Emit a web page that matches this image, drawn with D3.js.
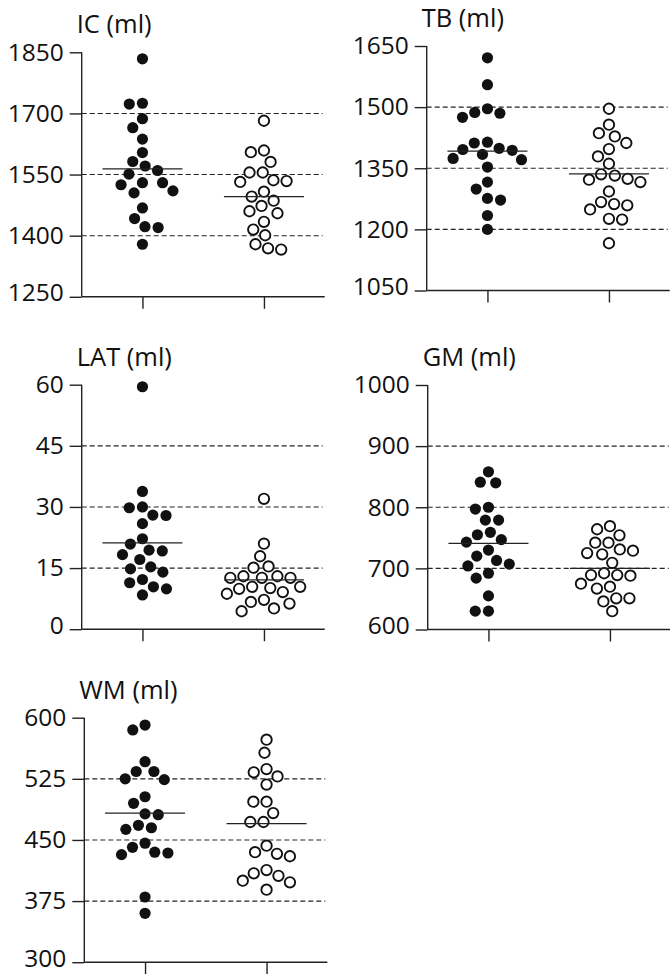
<!DOCTYPE html>
<html><head><meta charset="utf-8">
<script src="https://cdn.jsdelivr.net/npm/d3@7"></script>
<style>body{margin:0;background:#fff}text{font-family:"Open Sans",sans-serif;fill:#111}</style>
</head><body><svg id="c" width="670" height="974"></svg>
<script>
// ---- data ----
const titles = ["IC (ml)", "TB (ml)", "LAT (ml)", "GM (ml)", "WM (ml)"];
const tickLabels = [
  [1250, 1400, 1550, 1700, 1850],
  [1050, 1200, 1350, 1500, 1650],
  [0, 15, 30, 45, 60],
  [600, 700, 800, 900, 1000],
  [300, 375, 450, 525, 600]
];
const groups = ["filled", "open"];
const icFilled = [1834,1723,1725,1687,1665,1637,1604,1582,1560,1571,1551,1525,1530,1530,1505,1510,1468,1442,1422,1420,1379];
const icOpen   = [1682,1609,1605,1581,1555,1555,1534,1536,1532,1508,1496,1486,1473,1460,1455,1434,1415,1401,1379,1366,1369];
const tbFilled = [1621,1555,1487,1496,1485,1475,1412,1414,1399,1396,1394,1374,1384,1371,1353,1316,1299,1276,1272,1234,1200];
const tbOpen   = [1496,1457,1436,1428,1412,1397,1379,1361,1322,1324,1332,1335,1316,1293,1259,1267,1262,1249,1224,1226,1166];
const latFilled = [59.5,33.8,29.8,30.0,27.9,28.0,25.9,20.9,22.2,19.2,18.3,19.4,17.1,14.8,14.0,15.3,12.2,11.4,10.4,9.9,8.4];
const latOpen   = [32.0,21.0,17.9,15.4,15.1,12.6,13.0,13.0,12.6,12.6,10.1,10.4,10.4,9.9,8.7,9.1,6.3,7.2,6.7,5.1,4.4];
const gmFilled = [858,840,841,800,797,779,779,759,755,747,743,730,720,713,707,704,692,684,655,630,630];
const gmOpen   = [769,764,754,742,742,725,729,731,723,709,689,689,688,692,670,667,675,651,651,646,630];
const wmFilled = [591,585,546,534,534,524,525,503,495,482,481,468,463,465,446,441,435,432,434,380,360];
const wmOpen   = [573,557,537,528,533,518,497,497,483,472,472,443,433,430,435,409,406,413,400,398,389];
const medians = [[1564,1496],[1392,1336],[21.2,12.1],[741,700],[483,470]];
const series = [[icFilled,icOpen],[tbFilled,tbOpen],[latFilled,latOpen],[gmFilled,gmOpen],[wmFilled,wmOpen]];

// ---- layout ----
const layout = [
  {x:81.7, y:52.3},
  {x:426.7, y:46},
  {x:81.7, y:384.7},
  {x:427.7, y:385},
  {x:84.3, y:717.7}
];
const W = 243, H = 244.5, D = 13.2;
const svg = d3.select("#c");

function swarm(vals, y) {
  const idx = vals.map((v,i)=>i).sort((a,b)=>vals[b]-vals[a]);
  const placed = [];
  const out = new Array(vals.length);
  idx.forEach(i => {
    const yi = y(vals[i]);
    const cands = [0];
    placed.forEach(p => {
      const dy = Math.abs(p.y - yi);
      if (dy < D) { const dx = Math.sqrt(D*D - dy*dy); cands.push(p.x + dx, p.x - dx); }
    });
    const ok = cands.filter(cx => placed.every(p => (p.x-cx)**2 + (p.y-yi)**2 >= D*D - 0.01));
    ok.sort((a,b)=>Math.abs(a)-Math.abs(b) || a-b);
    const x = ok[0];
    placed.push({x:x, y:yi});
    out[i] = {x:x, y:yi, v:vals[i]};
  });
  return out;
}

layout.forEach((L, k) => {
  const ticks = tickLabels[k];
  const g = svg.append("g").attr("transform", `translate(${L.x},${L.y})`);
  const y = d3.scaleLinear().domain([ticks[0], ticks[ticks.length-1]]).range([H, 0]);
  const x = d3.scalePoint().domain(groups).range([0, W]).padding(0.5);

  g.selectAll(".grid").data(ticks.slice(1, -1)).join("line")
    .attr("x1", 0).attr("x2", W - 2).attr("y1", d=>y(d)).attr("y2", d=>y(d))
    .attr("stroke", "#222").attr("stroke-width", 1.1).attr("stroke-dasharray", "5,3");

  const ya = d3.axisLeft(y).tickValues(ticks).tickSize(12).tickPadding(6).tickFormat(d3.format("d"));
  const yg = g.append("g").call(ya);
  yg.select(".domain").remove();
  yg.selectAll(".tick line").attr("stroke", "#222").attr("stroke-width", 1.4);
  yg.selectAll(".tick text").attr("font-size", 24.5).attr("font-family", '"Open Sans",sans-serif').attr("fill", "#111").attr("dy", "0.32em");
  yg.selectAll(".tick text").filter(d => d === ticks[0]).attr("y", -4);
  g.append("line").attr("x1", 0).attr("x2", 0).attr("y1", 0).attr("y2", H).attr("stroke", "#222").attr("stroke-width", 1.4);

  const xa = d3.axisBottom(x).tickSize(12).tickFormat("");
  const xg = g.append("g").attr("transform", `translate(0,${H})`).call(xa);
  xg.select(".domain").remove();
  xg.selectAll(".tick line").attr("stroke", "#222").attr("stroke-width", 1.4);
  g.append("line").attr("x1", 0).attr("x2", W).attr("y1", H).attr("y2", H).attr("stroke", "#222").attr("stroke-width", 1.4);

  g.append("text").attr("x", -5).attr("y", -19).attr("font-size", 25.5).text(titles[k]);

  series[k].forEach((vals, gi) => {
    const cx = x(groups[gi]);
    const pts = swarm(vals, y);
    g.selectAll(".p" + gi).data(pts).join("circle")
      .attr("cx", d => cx + d.x).attr("cy", d => d.y)
      .attr("r", gi === 0 ? 5.6 : 5.2)
      .attr("fill", gi === 0 ? "#111" : "#fff")
      .attr("stroke", "#111").attr("stroke-width", gi === 0 ? 0 : 1.9);
    g.append("line").attr("x1", cx - 40).attr("x2", cx + 40)
      .attr("y1", y(medians[k][gi])).attr("y2", y(medians[k][gi]))
      .attr("stroke", "#222").attr("stroke-width", 1.3);
  });
});
</script></body></html>
